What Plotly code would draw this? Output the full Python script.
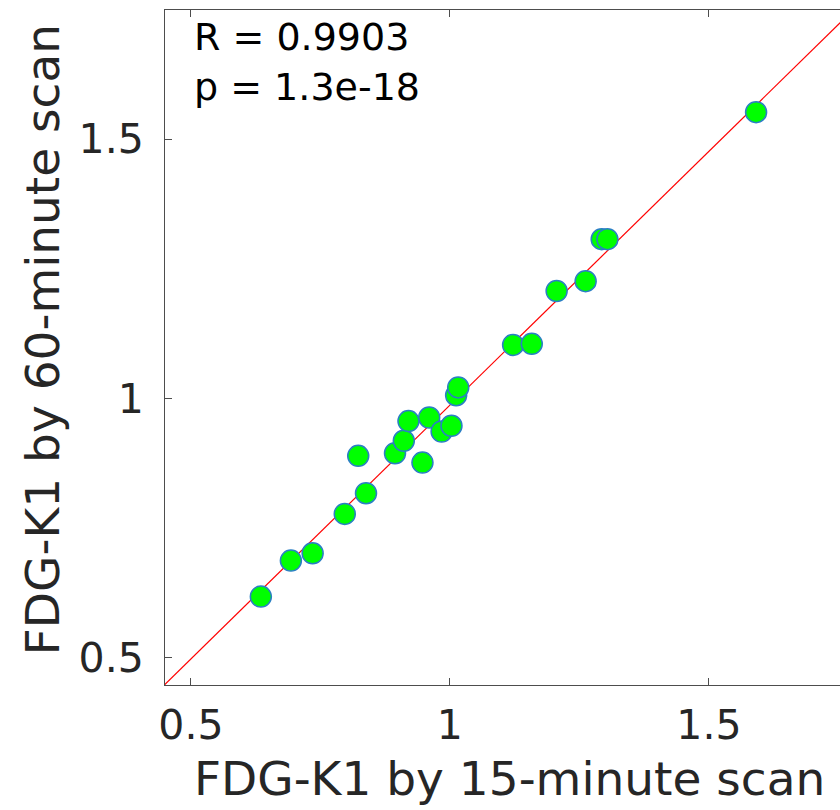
import numpy as np
import plotly.graph_objects as go

# Data
k1_15min = [0.635, 0.693, 0.735, 0.797, 0.823, 0.838, 0.894, 0.911, 0.920, 0.947, 0.960,
            0.984, 1.003, 1.012, 1.016, 1.122, 1.158, 1.206, 1.262, 1.293, 1.304, 1.591]
k1_60min = [0.6175, 0.687, 0.701, 0.777, 0.889, 0.817, 0.894, 0.918, 0.956, 0.876, 0.963,
            0.936, 0.947, 1.006, 1.021, 1.103, 1.105, 1.207, 1.226, 1.307, 1.307, 1.552]
stats_text = ["R = 0.9903", "p = 1.3e-18"]
x_ticks = [0.5, 1, 1.5]
y_ticks = [0.5, 1, 1.5]
tick_labels = ["0.5", "1", "1.5"]
x_title = "FDG-K1 by 15-minute scan"
y_title = "FDG-K1 by 60-minute scan"

# Linear fit line
slope, intercept = np.polyfit(k1_15min, k1_60min, 1)
fit_x = [0.4, 1.8]
fit_y = [slope * v + intercept for v in fit_x]

FONT = "DejaVu Sans"
TXT = "#262626"
AX = "#4d4d4d"

fig = go.Figure()
fig.add_trace(go.Scatter(x=fit_x, y=fit_y, mode="lines",
                         line=dict(color="#ff0000", width=1.2), showlegend=False,
                         hoverinfo="skip"))
fig.add_trace(go.Scatter(x=k1_15min, y=k1_60min, mode="markers",
                         marker=dict(size=21, color="#00ff00",
                                     line=dict(color="#2a7fc4", width=1.5)),
                         showlegend=False))

fig.update_layout(
    width=840, height=810,
    margin=dict(l=165, r=0, t=10, b=125),
    plot_bgcolor="white", paper_bgcolor="white",
    font=dict(family=FONT, color=TXT),
    xaxis=dict(range=[0.45, 1.753], tickvals=x_ticks, ticktext=tick_labels,
               ticks="inside", ticklen=7, tickcolor=AX, tickwidth=1,
               showline=True, linecolor=AX, linewidth=1, mirror="ticks",
               showgrid=False, zeroline=False,
               tickfont=dict(family=FONT, size=41, color=TXT), ticklabelstandoff=4),
    yaxis=dict(range=[0.447, 1.749], tickvals=y_ticks, ticktext=tick_labels,
               ticks="inside", ticklen=7, tickcolor=AX, tickwidth=1,
               showline=True, linecolor=AX, linewidth=1, mirror=False,
               showgrid=False, zeroline=False,
               tickfont=dict(family=FONT, size=41, color=TXT), ticklabelstandoff=12),
)

annotations = [
    dict(text=stats_text[0], xref="paper", yref="paper", x=0.04, y=0.96,
         xanchor="left", yanchor="middle", showarrow=False,
         font=dict(family=FONT, size=38, color="black")),
    dict(text=stats_text[1], xref="paper", yref="paper", x=0.04, y=0.886,
         xanchor="left", yanchor="middle", showarrow=False,
         font=dict(family=FONT, size=38, color="black")),
    dict(text=x_title, xref="paper", yref="paper", x=0.511, y=-0.138,
         xanchor="center", yanchor="middle", showarrow=False,
         font=dict(family=FONT, size=47, color=TXT)),
    dict(text=y_title, xref="paper", yref="paper", x=-0.182, y=0.511,
         xanchor="center", yanchor="middle", showarrow=False, textangle=-90,
         font=dict(family=FONT, size=47, color=TXT)),
]
fig.update_layout(annotations=annotations)

fig.write_html("out.html", config={"displayModeBar": False},
               post_script="document.body.style.margin='0';document.body.style.overflow='hidden';")
